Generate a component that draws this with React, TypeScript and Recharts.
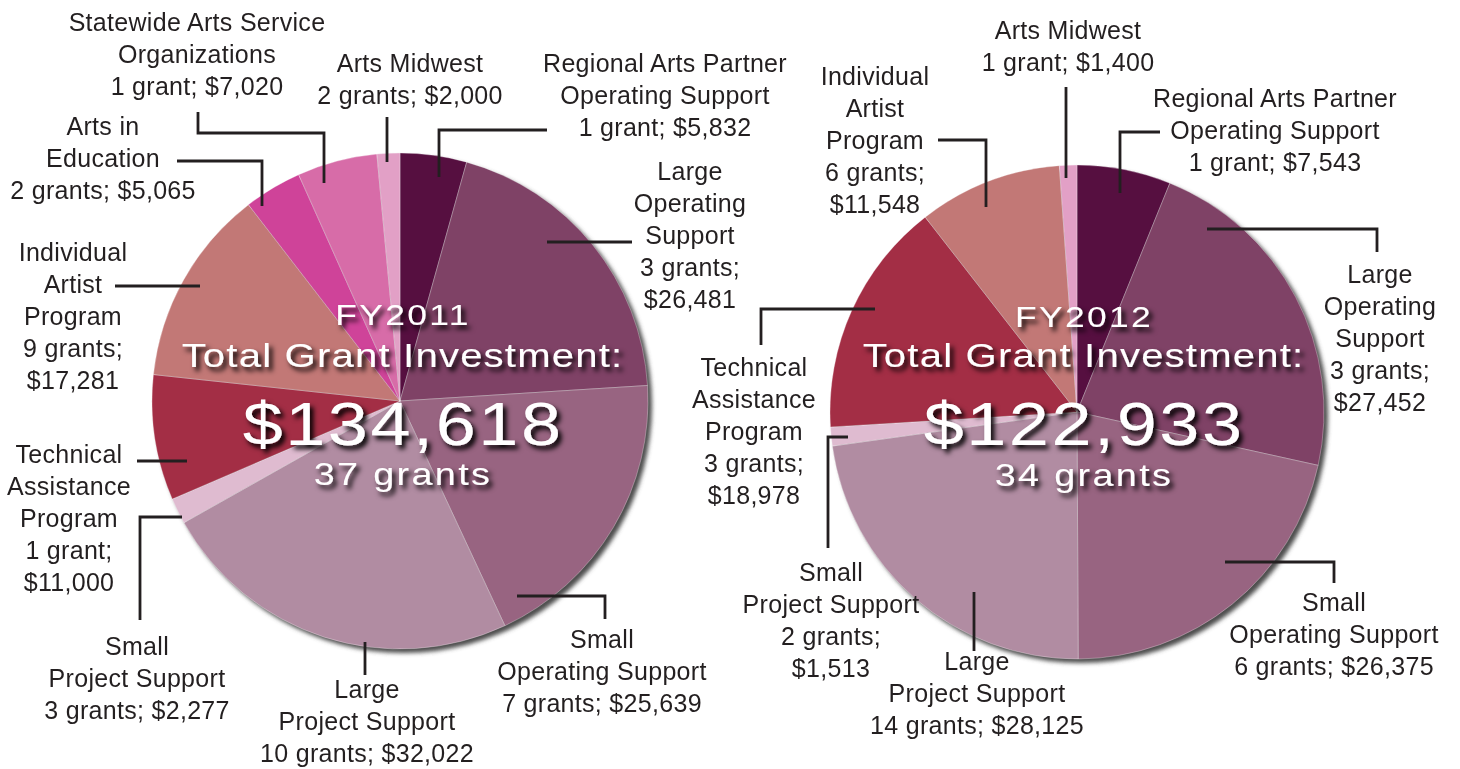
import React from 'react';
import { PieChart, Pie, Cell, Label } from 'recharts';

// ---------- DATA ----------
const categories2011 = [
  'Regional Arts Partner\nOperating Support',
  'Large\nOperating\nSupport',
  'Small\nOperating Support',
  'Large\nProject Support',
  'Small\nProject Support',
  'Technical\nAssistance\nProgram',
  'Individual\nArtist\nProgram',
  'Arts in\nEducation',
  'Statewide Arts Service\nOrganizations',
  'Arts Midwest',
];
const grants2011 = [1, 3, 7, 10, 3, 1, 9, 2, 1, 2];
const amounts2011 = [5832, 26481, 25639, 32022, 2277, 11000, 17281, 5065, 7020, 2000];
const colors2011 = ['#560f40', '#7f4266', '#986481', '#b18ca2', '#dfbbd0', '#a32e45', '#c27876', '#cf4399', '#d76ca8', '#e2a0c6'];

const categories2012 = [
  'Regional Arts Partner\nOperating Support',
  'Large\nOperating\nSupport',
  'Small\nOperating Support',
  'Large\nProject Support',
  'Small\nProject Support',
  'Technical\nAssistance\nProgram',
  'Individual\nArtist\nProgram',
  'Arts Midwest',
];
const grants2012 = [1, 3, 6, 14, 2, 3, 6, 1];
const amounts2012 = [7543, 27452, 26375, 28125, 1513, 18978, 11548, 1400];
const colors2012 = ['#560f40', '#7f4266', '#986481', '#b18ca2', '#dfbbd0', '#a32e45', '#c27876', '#e2a0c6'];

const title2011 = ['FY2011', 'Total Grant Investment:', '$134,618', '37 grants'];
const title2012 = ['FY2012', 'Total Grant Investment:', '$122,933', '34 grants'];

// ---------- LAYOUT (relative to pie centre) ----------
type LabelLayout = { tx: number; ty: number; split: boolean; pts: number[][] };

const layout2011: LabelLayout[] = [
  { tx: 265, ty: -329, split: false, pts: [[39, -224], [39, -271], [147, -271]] },
  { tx: 290, ty: -221, split: true, pts: [[147, -159], [232, -159]] },
  { tx: 202, ty: 247, split: false, pts: [[117, 195], [205, 195], [205, 218]] },
  { tx: -33, ty: 297, split: false, pts: [[-35, 241], [-35, 274]] },
  { tx: -263, ty: 254, split: false, pts: [[-218, 116], [-260, 116], [-260, 219]] },
  { tx: -331, ty: 62, split: true, pts: [[-213, 60], [-263, 60]] },
  { tx: -327, ty: -140, split: true, pts: [[-200, -115], [-285, -115]] },
  { tx: -297, ty: -266, split: false, pts: [[-138, -195], [-138, -240], [-223, -240]] },
  { tx: -203, ty: -370, split: false, pts: [[-76, -218], [-76, -268], [-202, -268], [-202, -289]] },
  { tx: 10, ty: -329, split: false, pts: [[-13, -239], [-13, -284]] },
];

const layout2012: LabelLayout[] = [
  { tx: 198, ty: -305, split: false, pts: [[43, -219], [43, -280], [83, -280]] },
  { tx: 303, ty: -129, split: true, pts: [[130, -183], [300, -183], [300, -160]] },
  { tx: 257, ty: 199, split: false, pts: [[148, 150], [257, 150], [257, 171]] },
  { tx: -100, ty: 258, split: false, pts: [[-103, 180], [-103, 239]] },
  { tx: -246, ty: 169, split: true, pts: [[-229, 25], [-249, 25], [-249, 136]] },
  { tx: -323, ty: -36, split: true, pts: [[-202, -103], [-316, -103], [-316, -67]] },
  { tx: -202, ty: -327, split: true, pts: [[-91, -205], [-91, -272], [-139, -272]] },
  { tx: -9, ty: -373, split: false, pts: [[-11, -234], [-11, -325]] },
];

const LINE_H = 32;
const TEXT_COLOR = '#231f20';
const FONT = '"Liberation Sans", Arial, Helvetica, sans-serif';

const fmt = (v: number) => '$' + v.toLocaleString('en-US');

const makeData = (cats: string[], grants: number[], amounts: number[]) =>
  cats.map((c, i) => ({ name: c, value: amounts[i], grants: grants[i] }));

const data2011 = makeData(categories2011, grants2011, amounts2011);
const data2012 = makeData(categories2012, grants2012, amounts2012);

const makeLabel = (cats: string[], grants: number[], amounts: number[], layout: LabelLayout[]) =>
  (props: any) => {
    const { cx, cy, index } = props;
    const L = layout[index];
    if (!L) return null;
    const g = grants[index];
    const countText = `${g} ${g === 1 ? 'grant' : 'grants'};`;
    const lines = cats[index].split('\n');
    if (L.split) {
      lines.push(countText, fmt(amounts[index]));
    } else {
      lines.push(`${countText} ${fmt(amounts[index])}`);
    }
    const x = cx + L.tx;
    return (
      <g key={`lbl-${index}`}>
        <polyline
          points={L.pts.map(([px, py]) => `${cx + px},${cy + py}`).join(' ')}
          fill="none"
          stroke={TEXT_COLOR}
          strokeWidth={2.8}
        />
        <text x={x} y={cy + L.ty} textAnchor="middle" fill={TEXT_COLOR}
          style={{ fontFamily: FONT, fontSize: 25, letterSpacing: 0.3 }}>
          {lines.map((s, k) => (
            <tspan key={k} x={x} y={cy + L.ty + k * LINE_H}>{s}</tspan>
          ))}
        </text>
      </g>
    );
  };

const PIE1 = { cx: 400, cy: 401, r: 248 };
const PIE2 = { cx: 1077, cy: 412, r: 247 };

const CENTER_SIZES = [30, 34, 61, 32];
const CENTER_SPACING = [2, 1, 2.2, 2];
const CENTER_STRETCH = 1.18;

const makeCenter = (title: string[], pie: { cx: number; cy: number }, dx: number, dys: number[]) => (props: any) => {
  const vb = props && props.viewBox ? props.viewBox : {};
  const cx = typeof vb.cx === 'number' ? vb.cx : pie.cx;
  const cy = typeof vb.cy === 'number' ? vb.cy : pie.cy;
  return (
    <g filter="url(#txtShadow)">
      {title.map((t, i) => (
        <text key={i} x={0} y={0} textAnchor="middle" fill="#ffffff"
          transform={`translate(${cx + dx + CENTER_SPACING[i] / 2}, ${cy + dys[i]}) scale(${CENTER_STRETCH}, 1)`}
          style={{ fontFamily: FONT, fontSize: CENTER_SIZES[i], letterSpacing: CENTER_SPACING[i] }}>
          {t}
        </text>
      ))}
    </g>
  );
};

export default function App() {
  const total2011 = amounts2011.reduce((a, b) => a + b, 0);
  const total2012 = amounts2012.reduce((a, b) => a + b, 0);
  return (
    <div style={{ position: 'absolute', left: 0, top: 0, width: 1460, height: 769, background: '#ffffff' }}>
      <svg width={0} height={0} style={{ position: 'absolute' }}>
        <defs>
          <filter id="pieBlur" x="-10%" y="-10%" width="120%" height="120%">
            <feGaussianBlur stdDeviation="2.2" />
          </filter>
          <filter id="txtShadow" x="-20%" y="-30%" width="140%" height="170%">
            <feDropShadow dx="3.5" dy="4" stdDeviation="2.5" floodColor="#000000" floodOpacity="1" />
          </filter>
        </defs>
      </svg>
      <PieChart width={1460} height={769} margin={{ top: 0, right: 0, bottom: 0, left: 0 }}>
        {/* shadows */}
        <Pie data={[{ name: 'shadow', value: total2011 }]} dataKey="value" cx={PIE1.cx + 4} cy={PIE1.cy + 4}
          outerRadius={PIE1.r} startAngle={90} endAngle={-270} isAnimationActive={false} label={false} labelLine={false}>
          <Cell fill="#4d4d4d" stroke="none" filter="url(#pieBlur)" />
        </Pie>
        <Pie data={[{ name: 'shadow', value: total2012 }]} dataKey="value" cx={PIE2.cx + 4} cy={PIE2.cy + 4}
          outerRadius={PIE2.r} startAngle={90} endAngle={-270} isAnimationActive={false} label={false} labelLine={false}>
          <Cell fill="#4d4d4d" stroke="none" filter="url(#pieBlur)" />
        </Pie>

        <Pie data={data2011} dataKey="value" nameKey="name" cx={PIE1.cx} cy={PIE1.cy} outerRadius={PIE1.r}
          startAngle={90} endAngle={-270} isAnimationActive={false} labelLine={false}
          label={makeLabel(categories2011, grants2011, amounts2011, layout2011)}>
          {data2011.map((d, i) => (
            <Cell key={i} fill={colors2011[i]} stroke="#ffffff" strokeOpacity={0.3} strokeWidth={1} />
          ))}
          <Label position="center" content={makeCenter(title2011, PIE1, 2, [-76, -34, 44, 84])} />
        </Pie>

        <Pie data={data2012} dataKey="value" nameKey="name" cx={PIE2.cx} cy={PIE2.cy} outerRadius={PIE2.r}
          startAngle={90} endAngle={-270} isAnimationActive={false} labelLine={false}
          label={makeLabel(categories2012, grants2012, amounts2012, layout2012)}>
          {data2012.map((d, i) => (
            <Cell key={i} fill={colors2012[i]} stroke="#ffffff" strokeOpacity={0.3} strokeWidth={1} />
          ))}
          <Label position="center" content={makeCenter(title2012, PIE2, 6, [-85, -45, 33, 74])} />
        </Pie>
      </PieChart>
    </div>
  );
}
